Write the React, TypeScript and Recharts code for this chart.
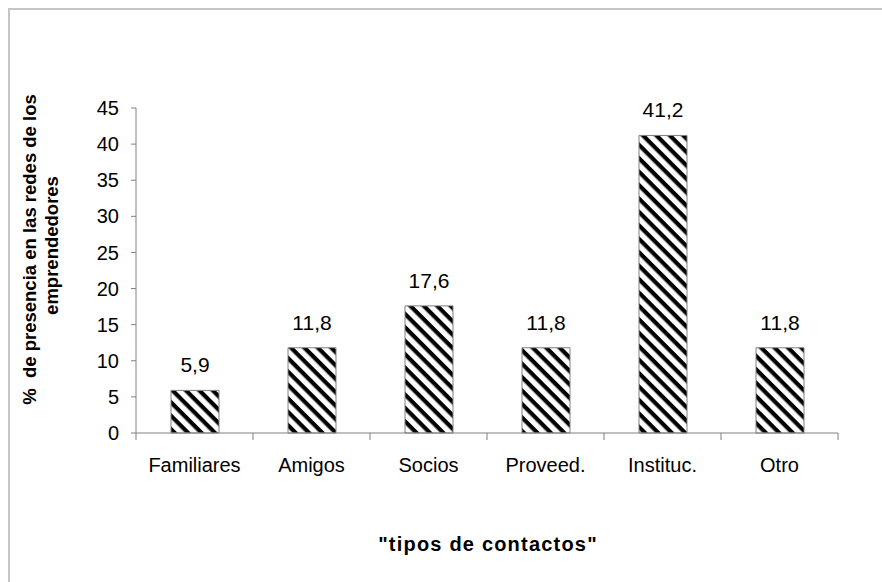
import React from 'react';
import { BarChart, Bar, XAxis, YAxis, LabelList } from 'recharts';

// Share of each contact type in the entrepreneurs' networks (%)
const categories = ['Familiares', 'Amigos', 'Socios', 'Proveed.', 'Instituc.', 'Otro'];
const values = [5.9, 11.8, 17.6, 11.8, 41.2, 11.8];
const yTicks = [0, 5, 10, 15, 20, 25, 30, 35, 40, 45];

const data = categories.map((name, i) => ({ name, value: values[i] }));

const FONT = '"Liberation Sans", Arial, Helvetica, sans-serif';
const AXIS_GREY = '#808080';

const CHART_W = 882;
const CHART_H = 582;
const MARGIN = { top: 108, right: 44, bottom: 119, left: 0 };
const Y_AXIS_W = 136;
const X_AXIS_H = 30;
const PLOT_W = CHART_W - MARGIN.left - MARGIN.right - Y_AXIS_W;
const BAND = PLOT_W / categories.length;
const HATCH = 9.5;

const fmt = (v: number) => v.toFixed(1).replace('.', ',');

// Category label plus tick marks at the band boundaries
function CategoryTick(props: any) {
  const { x, y, payload, index } = props;
  const half = BAND / 2;
  const last = index === categories.length - 1;
  return (
    <g>
      <line x1={x - half} x2={x - half} y1={y} y2={y + 7} stroke={AXIS_GREY} strokeWidth={1} />
      {last && <line x1={x + half} x2={x + half} y1={y} y2={y + 7} stroke={AXIS_GREY} strokeWidth={1} />}
      <text x={x} y={y + 39} textAnchor="middle" fontFamily={FONT} fontSize={20} fill="#000">
        {payload.value}
      </text>
    </g>
  );
}

function YTitle(props: any) {
  const { viewBox } = props;
  const cy = viewBox.y + viewBox.height / 2 - 21;
  return (
    <g fontFamily={FONT} fontSize={18.5} fontWeight="bold" fill="#000">
      <text
        transform={`translate(36, ${cy}) rotate(-90)`}
        textAnchor="middle"
        style={{ whiteSpace: 'pre' }}
      >
        {'%  de presencia en las redes de los'}
      </text>
      <text transform={`translate(58, ${cy - 4}) rotate(-90)`} textAnchor="middle">
        emprendedores
      </text>
    </g>
  );
}

function XTitle(props: any) {
  const { viewBox } = props;
  return (
    <text
      x={viewBox.x + viewBox.width / 2 + 1}
      y={viewBox.y + 118}
      textAnchor="middle"
      fontFamily={FONT}
      fontSize={20}
      fontWeight="bold"
      letterSpacing={1.2}
      fill="#000"
    >
      "tipos de contactos"
    </text>
  );
}

export default function App() {
  return (
    <div
      style={{
        position: 'fixed',
        left: 0,
        top: 0,
        width: CHART_W,
        height: CHART_H,
        background: '#fff',
        overflow: 'hidden',
      }}
    >
      <svg width={0} height={0} style={{ position: 'absolute' }}>
        <defs>
          <pattern id="hatch" patternUnits="userSpaceOnUse" width={HATCH} height={HATCH} patternTransform="rotate(45)">
            <rect x={0} y={0} width={HATCH} height={HATCH} fill="#fff" />
            <rect x={0} y={0} width={HATCH} height={4.2} fill="#000" />
          </pattern>
        </defs>
      </svg>
      <div
        style={{
          position: 'absolute',
          left: 8,
          top: 8,
          width: 920,
          height: 620,
          borderLeft: '2px solid #c6c6c6',
          borderTop: '2px solid #c6c6c6',
        }}
      />
      <div style={{ position: 'absolute', left: 0, top: 0 }}>
        <BarChart width={CHART_W} height={CHART_H} data={data} margin={MARGIN}>
          <XAxis
            dataKey="name"
            height={X_AXIS_H}
            axisLine={{ stroke: AXIS_GREY, strokeWidth: 1 }}
            tickLine={false}
            tickSize={0}
            tickMargin={0}
            tick={<CategoryTick />}
            interval={0}
            label={{ content: <XTitle /> }}
          />
          <YAxis
            width={Y_AXIS_W}
            domain={[0, 45]}
            ticks={yTicks}
            interval={0}
            axisLine={{ stroke: AXIS_GREY, strokeWidth: 1 }}
            tickLine={{ stroke: AXIS_GREY, strokeWidth: 1 }}
            tickSize={5}
            tickMargin={12}
            tick={{ fontFamily: FONT, fontSize: 20, fill: '#000' }}
            label={{ content: <YTitle /> }}
          />
          <Bar dataKey="value" fill="url(#hatch)" stroke={AXIS_GREY} strokeWidth={1} barSize={48} isAnimationActive={false}>
            <LabelList
              dataKey="value"
              position="top"
              offset={18}
              formatter={(v: any) => fmt(Number(v))}
              style={{ fontFamily: FONT, fontSize: 21, fill: '#000' }}
            />
          </Bar>
        </BarChart>
      </div>
    </div>
  );
}
